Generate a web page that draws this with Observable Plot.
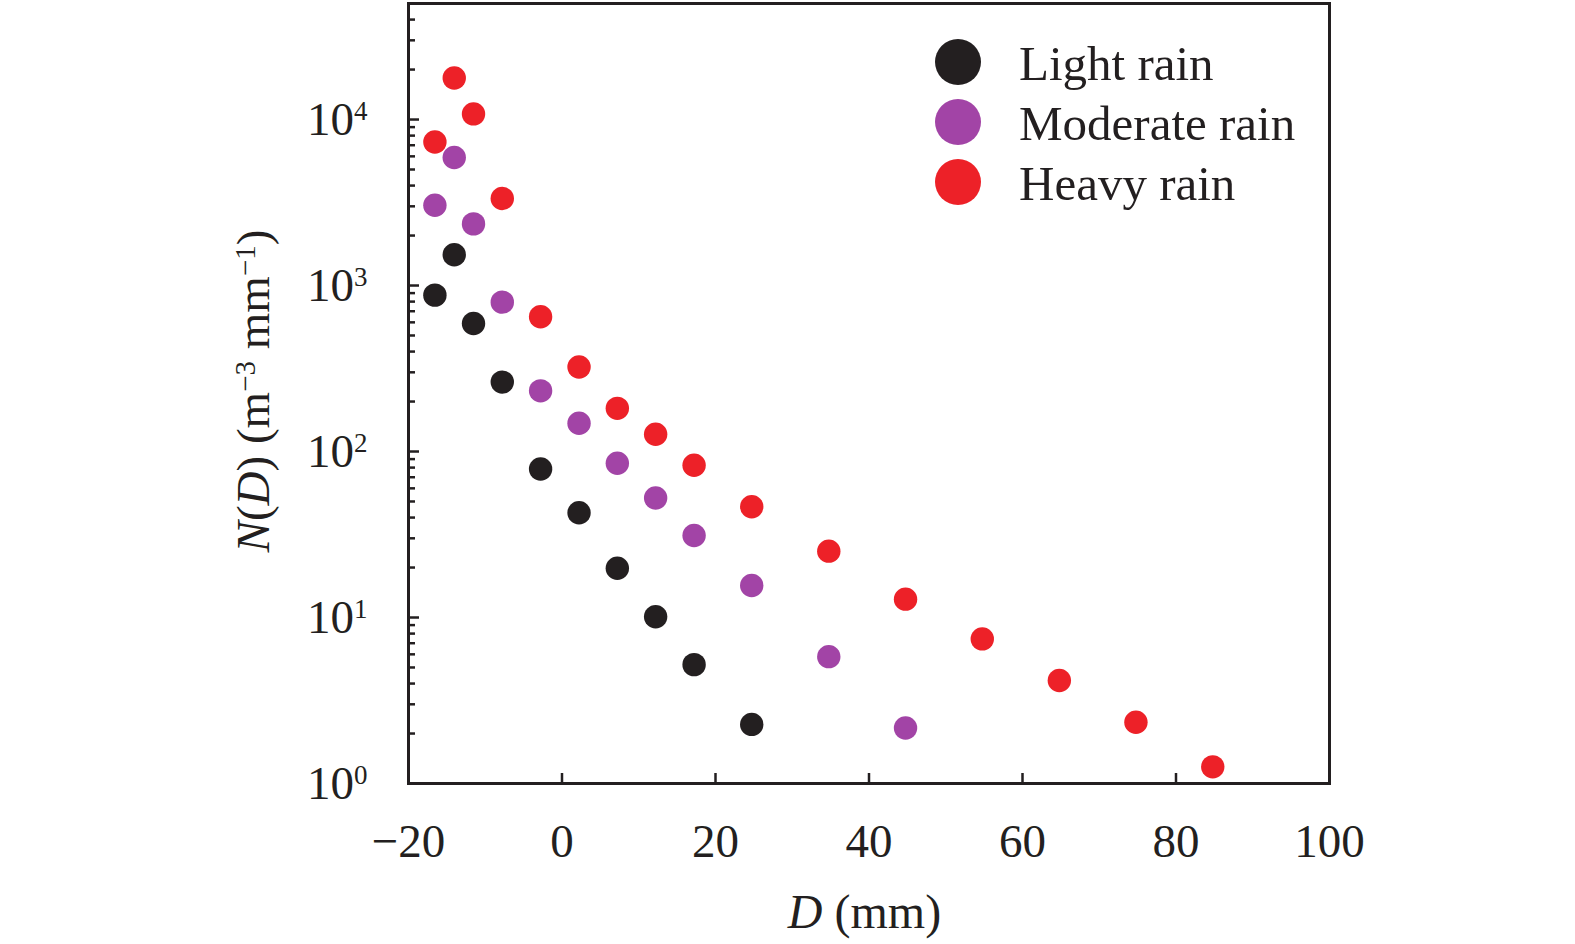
<!DOCTYPE html>
<html>
<head>
<meta charset="utf-8">
<script src="https://cdn.jsdelivr.net/npm/d3@7"></script>
<script src="https://cdn.jsdelivr.net/npm/@observablehq/plot@0.6"></script>
<style>
  html, body { margin: 0; padding: 0; background: #ffffff; }
  #chart { width: 1575px; height: 944px; }
</style>
</head>
<body>
<div id="chart"></div>
<script>
// ---- data ----
const seriesNames = ["Light rain", "Moderate rain", "Heavy rain"];
const seriesColors = ["#231f20", "#a244a6", "#ed2128"];
const diameters = [-16.56, -14.04, -11.53, -7.78, -2.79, 2.22, 7.21, 12.2, 17.21, 24.72, 34.76, 44.76, 54.76, 64.8, 74.78, 84.79];
const lightRain = [875, 1531, 591, 262, 78.5, 42.8, 19.8, 10.1, 5.2, 2.27];
const moderateRain = [3048, 5904, 2351, 794, 232, 148, 84.9, 52.5, 31.2, 15.6, 5.81, 2.16];
const heavyRain = [7328, 17800, 10810, 3345, 648, 323, 182, 127, 82.6, 46.5, 25.1, 12.9, 7.43, 4.17, 2.34, 1.26];

// ---- tick values ----
const xTickLabels = [-20, 0, 20, 40, 60, 80, 100];
const xTickMarks = [0, 20, 40, 60, 80];
const yMajorTicks = [1, 10, 100, 1000, 10000];
const yMinorTicks = [2,3,4,5,6,7,8,9, 20,30,40,50,60,70,80,90, 200,300,400,500,600,700,800,900,
                     2000,3000,4000,5000,6000,7000,8000,9000, 20000,30000,40000];

const seriesValues = [lightRain, moderateRain, heavyRain];
const data = seriesValues.flatMap((vals, s) =>
  vals.map((v, i) => ({D: diameters[i], N: v, type: seriesNames[s]})));

const ink = "#231f20";
const font = "'Liberation Serif', 'Times New Roman', Times, serif";

const chart = Plot.plot({
  width: 1575,
  height: 944,
  marginLeft: 408,
  marginRight: 246,
  marginTop: 3,
  marginBottom: 161,
  style: {fontFamily: font, fontSize: "47px", color: ink, background: "#ffffff", overflow: "visible"},
  x: {domain: [-20, 100]},
  y: {type: "log", domain: [1, 5e4]},
  color: {domain: seriesNames, range: seriesColors},
  marks: [
    // inward tick marks
    Plot.axisX({ticks: xTickMarks, tickSize: 10, dy: -10, fill: "none", stroke: ink, strokeWidth: 2.5, label: null}),
    Plot.axisY({ticks: yMajorTicks, tickSize: 11, dx: 11, fill: "none", stroke: ink, strokeWidth: 2.5, label: null}),
    Plot.axisY({ticks: yMinorTicks, tickSize: 7, dx: 7, fill: "none", stroke: ink, strokeWidth: 2.5, label: null}),
    // tick labels
    Plot.axisX({ticks: xTickLabels, tickSize: 0, tickPadding: 40, fill: ink, label: null,
      tickFormat: d => d < 0 ? "\u2212" + Math.abs(d) : String(d)}),
    Plot.axisY({ticks: yMajorTicks, tickSize: 0, tickPadding: 41, fill: ink, label: null,
      tickFormat: d => "10^" + Math.round(Math.log10(d))}),
    Plot.frame({stroke: ink, strokeWidth: 3}),
    Plot.dot(data, {x: "D", y: "N", fill: "type", r: 11.7})
  ]
});

document.getElementById("chart").appendChild(chart);

const svg = d3.select(chart);

// superscript exponents on the y tick labels
svg.selectAll('g[aria-label="y-axis tick label"] text').each(function() {
  const t = this.textContent;
  const parts = t.split("^");
  if (parts.length !== 2) return;
  const sel = d3.select(this);
  sel.text(parts[0]);
  sel.append("tspan").attr("dy", -15).style("font-size", "27px").text(parts[1]);
});

const xs = chart.scale("x");
const ys = chart.scale("y");
const frameCx = (xs.range[0] + xs.range[1]) / 2;
const frameCy = (ys.range[0] + ys.range[1]) / 2;

// x axis title
const xt = svg.append("text")
  .attr("x", frameCx - 4).attr("y", 928)
  .attr("text-anchor", "middle")
  .attr("font-family", font).attr("font-size", 48).attr("fill", ink);
xt.append("tspan").attr("font-style", "italic").text("D");
xt.append("tspan").text(" (mm)");

// y axis title
const yt = svg.append("text")
  .attr("transform", `translate(269,${frameCy - 2}) rotate(-90)`)
  .attr("text-anchor", "middle")
  .attr("font-family", font).attr("font-size", 47).attr("fill", ink);
yt.append("tspan").attr("font-style", "italic").text("N");
yt.append("tspan").text("(");
yt.append("tspan").attr("font-style", "italic").text("D");
yt.append("tspan").text(") (m");
yt.append("tspan").attr("dy", -14).attr("font-size", 29).text("\u22123");
yt.append("tspan").attr("dy", 14).text(" mm");
yt.append("tspan").attr("dy", -14).attr("font-size", 29).text("\u22121");
yt.append("tspan").attr("dy", 14).text(")");

// legend
const color = chart.scale("color");
const legend = svg.append("g").attr("aria-label", "legend");
seriesNames.forEach((name, i) => {
  const row = legend.append("g").attr("transform", `translate(958,${62 + i * 60})`);
  row.append("circle").attr("r", 23).attr("fill", color.apply(name));
  row.append("text").attr("x", 61).attr("y", 18)
    .attr("text-anchor", "start")
    .attr("font-family", font).attr("font-size", 49).attr("fill", ink)
    .text(name);
});
</script>
</body>
</html>
